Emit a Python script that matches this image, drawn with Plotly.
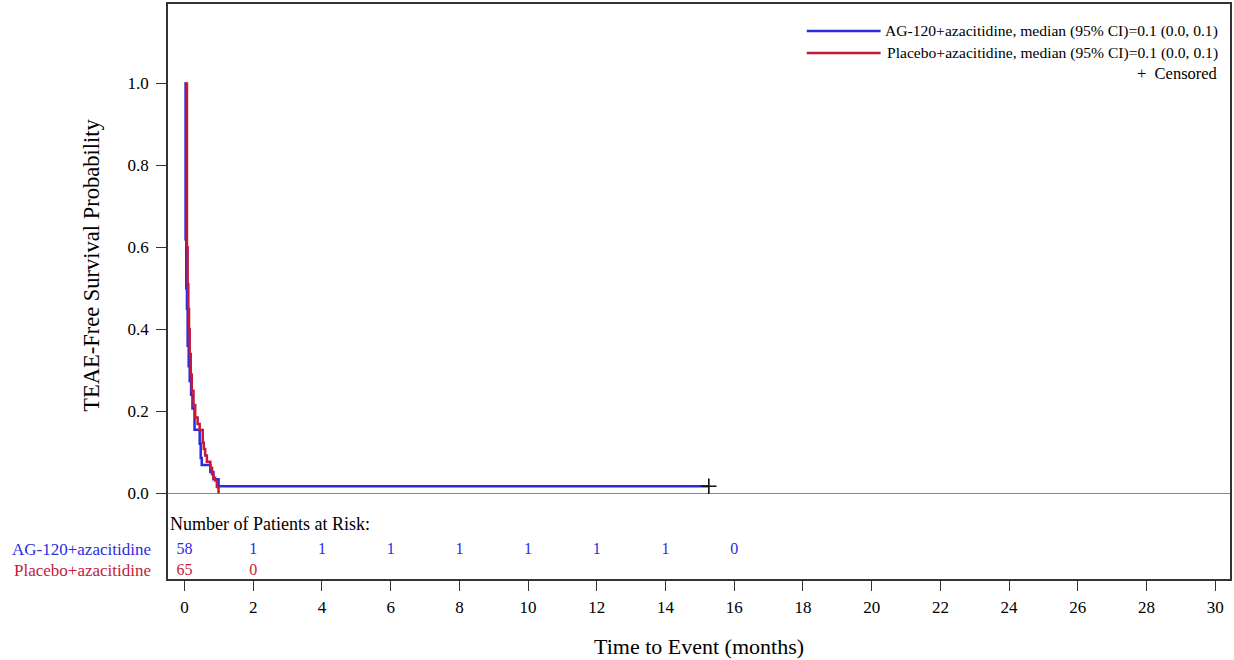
import plotly.graph_objects as go

# ---- data ----
ag_time = [0, 0.03, 0.05, 0.07, 0.09, 0.12, 0.15, 0.19, 0.23, 0.29, 0.44, 0.47, 0.50, 0.75, 0.84, 0.99, 15.26]
ag_surv = [1.0, 0.62, 0.50, 0.45, 0.36, 0.31, 0.274, 0.24, 0.207, 0.155, 0.121, 0.086, 0.069, 0.052, 0.034, 0.017, 0.017]
pl_time = [0, 0.07, 0.09, 0.11, 0.13, 0.15, 0.18, 0.21, 0.26, 0.31, 0.38, 0.44, 0.53, 0.56, 0.60, 0.65, 0.75, 0.80, 0.84, 0.89, 0.94, 0.99]
pl_surv = [1.0, 0.60, 0.51, 0.45, 0.40, 0.34, 0.29, 0.25, 0.215, 0.185, 0.169, 0.154, 0.123, 0.108, 0.092, 0.077, 0.062, 0.046, 0.038, 0.031, 0.015, 0.0]
cens_time = [15.26]
cens_surv = [0.017]

risk_times_ag = [0, 2, 4, 6, 8, 10, 12, 14, 16]
risk_ag = [58, 1, 1, 1, 1, 1, 1, 1, 0]
risk_times_pl = [0, 2]
risk_pl = [65, 0]

x_ticks = list(range(0, 31, 2))
y_ticks = [0.0, 0.2, 0.4, 0.6, 0.8, 1.0]

legend_ag = "AG-120+azacitidine, median (95% CI)=0.1 (0.0, 0.1)"
legend_pl = "Placebo+azacitidine, median (95% CI)=0.1 (0.0, 0.1)"
row_ag = "AG-120+azacitidine"
row_pl = "Placebo+azacitidine"

BLUE = "#2b2be0"
RED = "#c41a3a"
SERIF = "Liberation Serif, Times New Roman, serif"

fig = go.Figure()
fig.add_trace(go.Scatter(x=ag_time, y=ag_surv, mode="lines", line=dict(color=BLUE, width=2.5, shape="hv"),
                         showlegend=False, hoverinfo="skip"))
fig.add_trace(go.Scatter(x=pl_time, y=pl_surv, mode="lines", line=dict(color=RED, width=2.5, shape="hv"),
                         showlegend=False, hoverinfo="skip"))
fig.add_trace(go.Scatter(x=cens_time, y=cens_surv, mode="markers",
                         marker=dict(symbol="cross-thin", size=11, line=dict(color="#111", width=1.6)),
                         showlegend=False, hoverinfo="skip"))

# risk table numbers
fig.add_trace(go.Scatter(x=risk_times_ag, y=[-0.138] * len(risk_ag), mode="text",
                         text=[str(v) for v in risk_ag], textfont=dict(color=BLUE, size=16, family=SERIF),
                         showlegend=False, hoverinfo="skip"))
fig.add_trace(go.Scatter(x=risk_times_pl, y=[-0.189] * len(risk_pl), mode="text",
                         text=[str(v) for v in risk_pl], textfont=dict(color=RED, size=16, family=SERIF),
                         showlegend=False, hoverinfo="skip"))

annotations = [
    dict(text="Number of Patients at Risk:", xref="paper", yref="y", x=0, y=-0.0748, xanchor="left",
         yanchor="middle", xshift=0, showarrow=False, font=dict(size=18, color="#000", family=SERIF)),
    dict(text=row_ag, xref="paper", yref="y", x=0, y=-0.138, xanchor="right", yanchor="middle",
         xshift=-15, showarrow=False, font=dict(size=17, color=BLUE, family=SERIF)),
    dict(text=row_pl, xref="paper", yref="y", x=0, y=-0.189, xanchor="right", yanchor="middle",
         xshift=-15, showarrow=False, font=dict(size=17, color=RED, family=SERIF)),
    dict(text="TEAE-Free Survival Probability", xref="paper", yref="y", x=0, y=0.555, xanchor="center",
         yanchor="middle", xshift=-76, textangle=-90, showarrow=False,
         font=dict(size=22.5, color="#000", family=SERIF)),
    dict(text="Time to Event (months)", xref="paper", yref="paper", x=0.5, y=0, xanchor="center",
         yanchor="middle", yshift=-67, showarrow=False, font=dict(size=22, color="#000", family=SERIF)),
    dict(text=legend_ag, xref="paper", yref="paper", x=0.9906, y=0.953, xanchor="right", yanchor="middle",
         showarrow=False, font=dict(size=15.6, color="#000", family=SERIF)),
    dict(text=legend_pl, xref="paper", yref="paper", x=0.9906, y=0.915, xanchor="right", yanchor="middle",
         showarrow=False, font=dict(size=15.6, color="#000", family=SERIF)),
    dict(text="+  Censored", xref="paper", yref="paper", x=0.9906, y=0.880, xanchor="right", yanchor="middle",
         showarrow=False, font=dict(size=16.5, color="#000", family=SERIF)),
]

shapes = [
    dict(type="line", xref="paper", yref="paper", x0=0.6015, x1=0.671, y0=0.953, y1=0.953,
         line=dict(color=BLUE, width=2.5)),
    dict(type="line", xref="paper", yref="paper", x0=0.6015, x1=0.671, y0=0.915, y1=0.915,
         line=dict(color=RED, width=2.5)),
]

fig.update_layout(
    width=1234, height=660,
    margin=dict(l=168, r=2, t=3, b=81),
    paper_bgcolor="white", plot_bgcolor="white",
    font=dict(family=SERIF, color="#000"),
    annotations=annotations, shapes=shapes,
    xaxis=dict(range=[-0.482, 30.43], tickvals=x_ticks, ticktext=[str(v) for v in x_ticks],
               ticks="outside", ticklen=10, tickwidth=1, tickcolor="#333",
               showline=True, linecolor="#333", linewidth=1.5, mirror=True,
               showgrid=False, zeroline=False, ticklabelstandoff=2,
               tickfont=dict(size=17, family=SERIF, color="#000")),
    yaxis=dict(range=[-0.2094, 1.194], tickvals=y_ticks, ticktext=[f"{v:.1f}" for v in y_ticks],
               ticks="outside", ticklen=10, tickwidth=1, tickcolor="#333",
               showline=True, linecolor="#333", linewidth=1.5, mirror=True,
               showgrid=False, zeroline=True, zerolinecolor="#8a8a8a", zerolinewidth=1,
               ticklabelstandoff=4,
               tickfont=dict(size=17, family=SERIF, color="#000")),
)

fig.write_html("out.html", config={"displayModeBar": False},
               post_script="document.body.style.margin='0px';document.body.style.overflow='hidden';")
